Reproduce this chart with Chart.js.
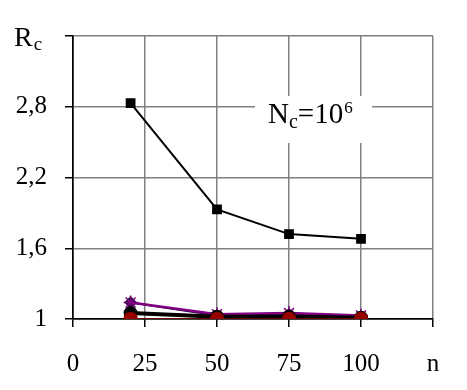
<!DOCTYPE html>
<html>
<head>
<meta charset="utf-8">
<script src="https://cdn.jsdelivr.net/npm/chart.js@4"></script>
<style>
  html, body { margin: 0; padding: 0; background: #fff; }
  #wrap { width: 467px; height: 390px; }
</style>
</head>
<body>
<div id="wrap"><canvas id="rc" width="467" height="390"></canvas></div>
<script>
  // data
  var nValues = [20, 50, 75, 100];
  var squares = [2.83, 1.93, 1.72, 1.68];
  var stars = [1.14, 1.04, 1.05, 1.03];
  var diamonds = [1.14, 1.03, 1.04, 1.02];
  var blackDots = [1.05, 1.02, 1.02, 1.01];
  var redDots = [1.0, 1.0, 1.0, 1.0];
  var xTicks = [0, 25, 50, 75, 100, 125];
  var yTicks = [1, 1.6, 2.2, 2.8, 3.4];

  var SERIF = "'Liberation Serif', 'DejaVu Serif', serif";
  var GRID = "#808080";

  function pts(ys) {
    return nValues.map(function(n, i) { return { x: n, y: ys[i] }; });
  }

  var labelsPlugin = {
    id: "labels",
    afterDraw: function(chart) {
      var ctx = chart.ctx;
      ctx.save();
      // white box behind the N_c note
      ctx.fillStyle = "#fff";
      ctx.fillRect(255, 96, 117, 47);
      ctx.fillStyle = "#000";
      ctx.textBaseline = "alphabetic";
      ctx.textAlign = "left";
      // N_c=10^6
      ctx.font = "29px " + SERIF;
      ctx.fillText("N", 268, 123);
      var x = 268 + ctx.measureText("N").width;
      ctx.font = "20px " + SERIF;
      ctx.fillText("c", x, 128);
      x += ctx.measureText("c").width;
      ctx.font = "29px " + SERIF;
      ctx.fillText("=10", x, 123);
      x += ctx.measureText("=10").width;
      ctx.font = "17px " + SERIF;
      ctx.fillText("6", x + 1, 113);
      // R_c at the top of the y axis
      ctx.font = "28px " + SERIF;
      ctx.fillText("R", 14, 46);
      var rx = 14 + ctx.measureText("R").width;
      ctx.font = "19px " + SERIF;
      ctx.fillText("c", rx + 1, 50);
      ctx.restore();
    }
  };

  var ctx = document.getElementById("rc").getContext("2d");
  new Chart(ctx, {
    type: "line",
    data: {
      datasets: [
        {
          data: pts(squares), borderColor: "#000", backgroundColor: "#000",
          borderWidth: 2, pointStyle: "rect", pointRadius: 5.5, order: 5
        },
        {
          data: pts(diamonds), borderColor: "#1a0a3a", backgroundColor: "#1a0a3a",
          borderWidth: 2, pointStyle: "rectRot", pointRadius: 5, order: 4
        },
        {
          data: pts(stars), borderColor: "#800080", backgroundColor: "#800080",
          borderWidth: 2.5, pointStyle: "star", pointRadius: 7, pointBorderWidth: 1.5, order: 3
        },
        {
          data: pts(blackDots), borderColor: "#000", backgroundColor: "#000",
          borderWidth: 4, pointStyle: "circle", pointRadius: 5, order: 2
        },
        {
          data: pts(redDots), borderColor: "#8b0000", backgroundColor: "#990000",
          borderWidth: 1.5, pointStyle: "circle", pointRadius: 6.5, order: 1
        }
      ]
    },
    options: {
      responsive: false,
      animation: false,
      layout: { padding: { top: 36, right: 34, left: 0, bottom: 0 } },
      plugins: { legend: { display: false }, tooltip: { enabled: false } },
      elements: { line: { tension: 0 } },
      scales: {
        x: {
          type: "linear", min: 0, max: 125,
          afterBuildTicks: function(s) { s.ticks = xTicks.map(function(v) { return { value: v }; }); },
          afterFit: function(s) { s.height = 71; },
          grid: {
            color: function(c) { return c.tick && c.tick.value === 0 ? "#000" : GRID; },
            lineWidth: 1.5, tickLength: 8, tickColor: "#000"
          },
          border: { color: "#000", width: 1.5 },
          ticks: {
            color: "#000", padding: 22, maxRotation: 0,
            font: { family: SERIF, size: 25 },
            callback: function(v) { return v === 125 ? "n" : String(v); }
          }
        },
        y: {
          type: "linear", min: 1, max: 3.4,
          afterBuildTicks: function(s) { s.ticks = yTicks.map(function(v) { return { value: v }; }); },
          afterFit: function(s) { s.width = 73; },
          grid: {
            color: function(c) { return c.tick && c.tick.value === 1 ? "#000" : GRID; },
            lineWidth: 1.5, tickLength: 8, tickColor: "#000"
          },
          border: { color: "#000", width: 1.5 },
          ticks: {
            color: "#000", padding: 18,
            font: { family: SERIF, size: 25 },
            callback: function(v) {
              if (v === 3.4) return "";
              if (v === 1) return "1";
              return v.toFixed(1).replace(".", ",");
            }
          }
        }
      }
    },
    plugins: [labelsPlugin]
  });
</script>
</body>
</html>
